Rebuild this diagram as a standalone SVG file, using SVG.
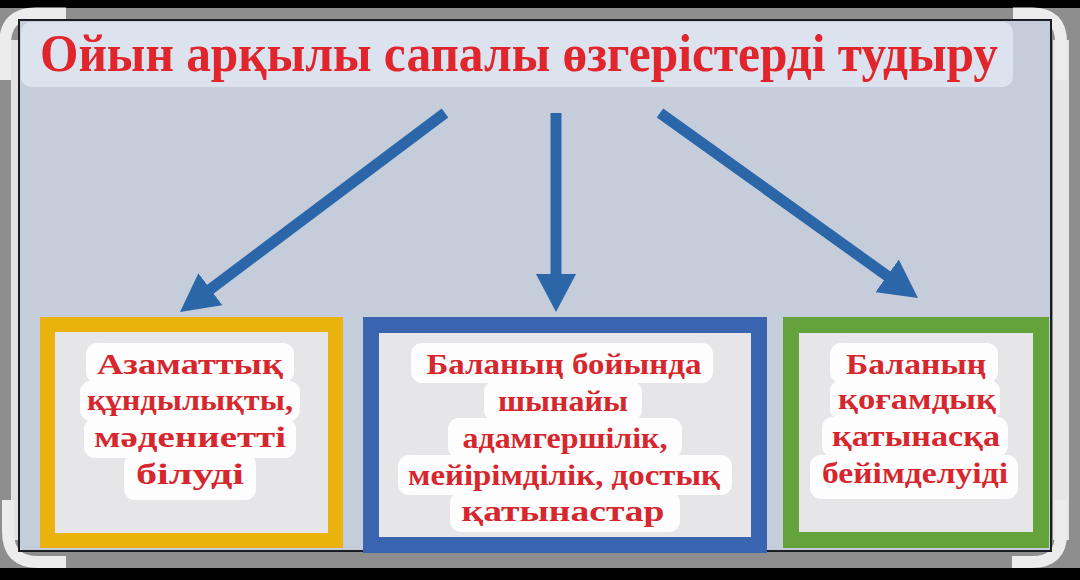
<svg xmlns="http://www.w3.org/2000/svg" width="1080" height="580" viewBox="0 0 1080 580">
  <defs>
    <style>
      .frame { fill: none; stroke: #ececec; stroke-width: 12; }
      .title { font-family: "Liberation Serif", "DejaVu Serif", serif; font-weight: bold; font-size: 53px; fill: #e0262c; }
      .lbl { font-family: "Liberation Serif", "DejaVu Serif", serif; font-weight: bold; font-size: 30px; fill: #d6262e; text-anchor: middle; }
      .hl { fill: #fdfdfd; }
      .inner { fill: #e6e6e8; }
      .arrow { stroke: #2b66a8; stroke-width: 11; fill: none; marker-end: url(#head); }
    </style>
    <marker id="head" markerUnits="userSpaceOnUse" viewBox="0 0 38 40" markerWidth="38" markerHeight="40" refX="2" refY="20" orient="auto">
      <path d="M0,0 L38,20 L0,40 Z" fill="#2b66a8"/>
    </marker>
  </defs>

  <!-- photo surround -->
  <rect x="0" y="0" width="1080" height="580" fill="#000"/>
  <rect x="0" y="8" width="1080" height="560" fill="#8e8e8e"/>
  <rect x="11" y="40" width="7" height="500" fill="#e2e2e2"/>
  <rect x="1053" y="40" width="16" height="500" fill="#e6e6e6"/>
  <g id="frame-corners">
    <path class="frame" d="M5,80 V44 Q5,13.5 36,13.5 H66"/>
    <path class="frame" d="M1013,13.5 H1032 Q1061,13.5 1061,42 V80"/>
    <path class="frame" d="M8,500 V532 Q8,562 38,562 H66"/>
    <path class="frame" d="M1012,562 H1032 Q1061,562 1061,534 V500"/>
  </g>

  <!-- diagram panel -->
  <rect x="19" y="20" width="1032" height="531" fill="#c6cdda" stroke="#1a1d24" stroke-width="2"/>

  <g id="title">
    <rect x="21" y="22" width="992" height="65" rx="10" fill="#dce3ee"/>
    <text class="title" x="40" y="71" textLength="958" lengthAdjust="spacingAndGlyphs">Ойын арқылы сапалы өзгерістерді тудыру</text>
  </g>

  <g id="connectors">
    <line class="arrow" x1="445" y1="113" x2="208.8" y2="290.4"/>
    <line class="arrow" x1="556" y1="113" x2="556" y2="276"/>
    <line class="arrow" x1="660" y1="113" x2="888.75" y2="277"/>
  </g>

  <g id="box-left">
    <rect x="47.5" y="324.5" width="288" height="216" class="inner" stroke="#e9b20c" stroke-width="15"/>
    <rect class="hl" x="86" y="343" width="208" height="40" rx="11"/>
    <rect class="hl" x="80" y="381" width="220" height="40" rx="11"/>
    <rect class="hl" x="84" y="418" width="212" height="40" rx="11"/>
    <rect class="hl" x="124" y="454" width="132" height="46" rx="11"/>
    <text class="lbl" x="190" y="374" textLength="186" lengthAdjust="spacingAndGlyphs">Азаматтық</text>
    <text class="lbl" x="190" y="410" textLength="206" lengthAdjust="spacingAndGlyphs">құндылықты,</text>
    <text class="lbl" x="190" y="447" textLength="192" lengthAdjust="spacingAndGlyphs">мәдениетті</text>
    <text class="lbl" x="190" y="484" textLength="108" lengthAdjust="spacingAndGlyphs">білуді</text>
  </g>

  <g id="box-center">
    <rect x="371" y="325" width="388" height="220" class="inner" stroke="#3a64b0" stroke-width="16"/>
    <rect class="hl" x="411" y="343" width="302" height="40" rx="11"/>
    <rect class="hl" x="484" y="381" width="158" height="40" rx="11"/>
    <rect class="hl" x="448" y="418" width="234" height="40" rx="11"/>
    <rect class="hl" x="398" y="455" width="334" height="40" rx="11"/>
    <rect class="hl" x="450" y="492" width="230" height="40" rx="11"/>
    <text class="lbl" x="564" y="374" textLength="275" lengthAdjust="spacingAndGlyphs">Баланың бойында</text>
    <text class="lbl" x="563" y="411" textLength="130" lengthAdjust="spacingAndGlyphs">шынайы</text>
    <text class="lbl" x="565" y="448" textLength="205" lengthAdjust="spacingAndGlyphs">адамгершілік,</text>
    <text class="lbl" x="564" y="485" textLength="312" lengthAdjust="spacingAndGlyphs">мейірімділік, достық</text>
    <text class="lbl" x="563" y="521" textLength="203" lengthAdjust="spacingAndGlyphs">қатынастар</text>
  </g>

  <g id="box-right">
    <rect x="791" y="325" width="250" height="215" class="inner" stroke="#64a23c" stroke-width="16"/>
    <rect class="hl" x="830" y="343" width="168" height="40" rx="11"/>
    <rect class="hl" x="830" y="380" width="170" height="40" rx="11"/>
    <rect class="hl" x="822" y="417" width="186" height="40" rx="11"/>
    <rect class="hl" x="810" y="455" width="208" height="44" rx="11"/>
    <text class="lbl" x="916" y="374" textLength="140" lengthAdjust="spacingAndGlyphs">Баланың</text>
    <text class="lbl" x="917" y="409" textLength="158" lengthAdjust="spacingAndGlyphs">қоғамдық</text>
    <text class="lbl" x="916" y="446" textLength="168" lengthAdjust="spacingAndGlyphs">қатынасқа</text>
    <text class="lbl" x="915" y="483" textLength="186" lengthAdjust="spacingAndGlyphs">бейімделуіді</text>
  </g>
</svg>
